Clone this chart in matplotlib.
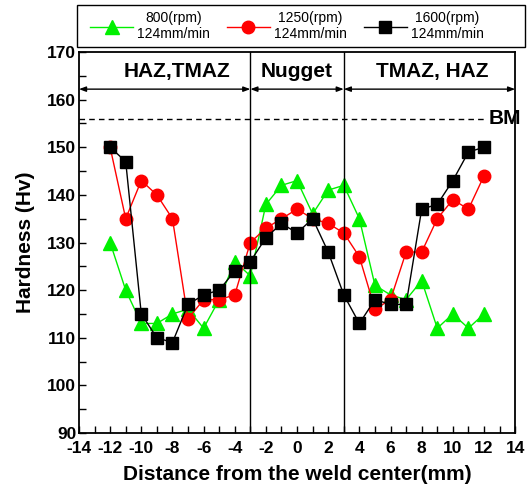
import numpy as np
import matplotlib
matplotlib.use('Agg')
import matplotlib.pyplot as plt
from matplotlib.ticker import MultipleLocator
from matplotlib.patches import Rectangle

plt.rcParams['font.family'] = ['Liberation Sans', 'DejaVu Sans']
plt.rcParams['axes.unicode_minus'] = False

# Datos de dureza
distancia = [-12, -11, -10, -9, -8, -7, -6, -5, -4, -3, -2, -1, 0,
             1, 2, 3, 4, 5, 6, 7, 8, 9, 10, 11, 12]
dureza_800 = [130, 120, 113, 113, 115, 116, 112, 118, 126, 123, 138, 142, 143,
              136, 141, 142, 135, 121, 119, 118, 122, 112, 115, 112, 115]
dureza_1250 = [150, 135, 143, 140, 135, 114, 118, 118, 119, 130, 133, 135, 137,
               135, 134, 132, 127, 116, 118, 128, 128, 135, 139, 137, 144]
dureza_1600 = [150, 147, 115, 110, 109, 117, 119, 120, 124, 126, 131, 134, 132,
               135, 128, 119, 113, 118, 117, 117, 137, 138, 143, 149, 150]

etiquetas = ['800(rpm)\n124mm/min', '1250(rpm)\n124mm/min', '1600(rpm)\n124mm/min']

# Zonas
limites = [-14, -3, 3, 14]
zonas = ['HAZ,TMAZ', 'Nugget', 'TMAZ, HAZ']
centros_zona = [-7.7, 0, 8.7]
bm = 156

fig = plt.figure(figsize=(5.3, 4.9), dpi=100)
ax = fig.add_axes([0.149, 0.1163, 0.823, 0.7776])

ax.plot(distancia, dureza_800, color='#00f000', marker='^', markersize=10,
        linewidth=1, label=etiquetas[0])
ax.plot(distancia, dureza_1250, color='red', marker='o', markersize=9,
        linewidth=1, label=etiquetas[1])
ax.plot(distancia, dureza_1600, color='black', marker='s', markersize=8.5,
        linewidth=1, label=etiquetas[2])

# Lineas verticales de zonas
for xl in limites[1:-1]:
    ax.axvline(xl, color='black', linewidth=1)

# Flechas de zonas
for i in range(3):
    ax.annotate('', xy=(limites[i], 162.2), xytext=(limites[i + 1], 162.2),
                arrowprops=dict(arrowstyle='<|-|>,head_length=0.4,head_width=0.15',
                                color='black', lw=1, shrinkA=0, shrinkB=0))
    ax.text(centros_zona[i], 165.8, zonas[i], ha='center', va='center',
            fontsize=15, fontweight='bold')

# Linea BM
ax.plot([-14, 12.2], [bm, bm], color='black', linestyle='--', linewidth=1,
        dashes=(4, 3))
ax.text(12.3, bm, 'BM', ha='left', va='center', fontsize=15,
        fontweight='bold', clip_on=False)

ax.set_xlim(-14, 14)
ax.set_ylim(90, 170)
ax.xaxis.set_major_locator(MultipleLocator(2))
ax.xaxis.set_minor_locator(MultipleLocator(1))
ax.yaxis.set_major_locator(MultipleLocator(10))
ax.yaxis.set_minor_locator(MultipleLocator(5))
ax.tick_params(which='both', direction='in', top=False, right=False,
               labelsize=12.5, width=1)
ax.tick_params(which='major', length=5)
ax.tick_params(which='minor', length=5)
ax.tick_params(axis='x', pad=6)
ax.tick_params(axis='y', pad=2)
for lab in ax.get_xticklabels() + ax.get_yticklabels():
    lab.set_fontweight('bold')
for s in ax.spines.values():
    s.set_linewidth(1.3)

ax.set_xlabel('Distance from the weld center(mm)', fontsize=15,
              fontweight='bold', labelpad=6)
ax.set_ylabel('Hardness (Hv)', fontsize=15, fontweight='bold', labelpad=9)

# Leyenda con marco propio
fig.patches.append(Rectangle((77 / 530, 1 - 47 / 490), 448 / 530, 42 / 490,
                             transform=fig.transFigure, fill=False,
                             edgecolor='black', linewidth=1))
leg = fig.legend(loc='center left', bbox_to_anchor=(90 / 530, 1 - 26 / 490),
                 ncol=3, fontsize=10, handlelength=3.1, frameon=False,
                 borderpad=0, borderaxespad=0, handletextpad=0.3,
                 columnspacing=1.2)
for t in leg.get_texts():
    t.set_multialignment('center')

fig.savefig('out.png', dpi=100)
